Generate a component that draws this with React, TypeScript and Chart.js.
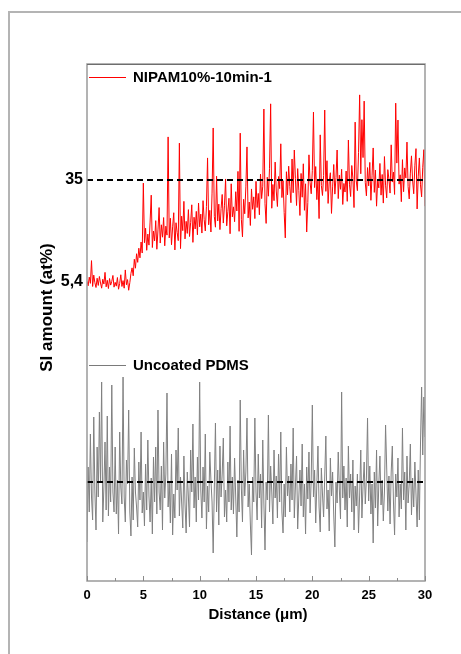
import { useEffect, useRef } from 'react';
import { Chart, registerables } from 'chart.js';

Chart.register(...registerables);

// ---------- data ----------
const DISTANCE_STEP_UM = 0.1; // sampling step along the line scan (µm)
const X_MAJOR_TICKS = [0, 5, 10, 15, 20, 25, 30];
const X_MINOR_TICKS = [2.5, 7.5, 12.5, 17.5, 22.5, 27.5];

const NIPAM_LABEL = 'NIPAM10%-10min-1';
const PDMS_LABEL = 'Uncoated PDMS';

// Si amount (at%) along the scan, coated sample (one row per µm)
const NIPAM_SI = [
  5.6, 4.3, 6.8, 5.0, 11.6, 4.1, 7.4, 5.2, 3.8, 6.5,
  4.4, 7.0, 5.1, 3.6, 6.2, 4.8, 8.2, 4.0, 5.9, 3.5,
  6.4, 4.5, 5.6, 7.3, 3.9, 5.3, 4.2, 6.7, 3.3, 5.0,
  7.5, 4.1, 5.8, 3.6, 8.9, 4.6, 6.1, 3.0, 5.2, 7.9,
  9.5, 7.2, 12.0, 9.4, 13.6, 11.1, 15.2, 12.4, 17.0, 13.8,
  34.1, 16.8, 21.0, 14.6, 19.3, 16.1, 22.8, 30.6, 15.4, 20.2,
  17.3, 23.2, 14.9, 20.5, 27.0, 16.7, 22.0, 18.4, 24.1, 15.9,
  21.6, 19.0, 47.5, 18.2, 23.9, 16.2, 21.4, 25.5, 14.7, 22.6,
  19.8, 17.4, 45.7, 15.1, 24.5, 20.3, 28.8, 17.9, 23.0, 19.5,
  26.4, 18.6, 22.7, 27.8, 16.9, 24.2, 20.8, 25.9, 19.1, 28.3,
  21.4, 25.1, 19.6, 29.0, 23.5, 20.2, 27.3, 41.4, 22.0, 26.2,
  19.9, 31.2, 50.1, 24.4, 21.3, 36.1, 23.1, 28.0, 20.6, 26.7,
  30.8, 22.5, 27.5, 35.3, 21.7, 25.8, 29.7, 19.4, 33.9, 24.3,
  27.2, 22.9, 31.6, 26.0, 37.5, 20.1, 48.6, 23.6, 18.5, 29.4,
  25.2, 33.0, 44.6, 24.0, 28.6, 21.8, 32.4, 26.5, 30.1, 23.8,
  34.6, 27.0, 31.1, 24.9, 36.7, 29.6, 33.2, 55.6, 28.1, 22.4,
  35.8, 30.3, 38.4, 57.1, 26.8, 33.7, 29.0, 40.2, 31.8, 27.3,
  36.0, 32.5, 45.5, 29.9, 34.8, 25.6, 18.2, 37.4, 30.7, 39.0,
  33.1, 28.4, 41.1, 31.3, 43.7, 35.4, 27.6, 38.3, 32.0, 24.7,
  36.9, 30.0, 39.7, 26.2, 33.9, 19.9, 28.5, 42.3, 34.3, 31.0,
  37.8, 54.7, 32.8, 38.9, 29.3, 35.1, 23.8, 48.1, 33.4, 30.5,
  36.3, 55.3, 31.7, 40.6, 28.2, 34.5, 37.1, 25.3, 33.0, 39.5,
  30.9, 35.7, 43.7, 29.6, 36.4, 32.3, 38.1, 27.9, 34.0, 31.5,
  37.6, 28.8, 46.6, 33.6, 30.2, 39.2, 35.5, 27.0, 51.8, 34.7,
  31.9, 43.0, 59.7, 36.8, 52.5, 41.5, 57.9, 34.2, 30.4, 38.6,
  33.3, 40.1, 29.1, 36.2, 44.3, 31.4, 37.9, 27.4, 35.0, 32.7,
  39.8, 30.6, 36.6, 28.3, 41.8, 33.5, 29.8, 38.0, 35.2, 31.2,
  45.2, 34.4, 37.3, 30.8, 57.3, 39.9, 52.4, 33.8, 36.5, 28.7,
  40.9, 31.6, 38.5, 35.6, 46.0, 33.1, 29.5, 37.0, 42.0, 34.9,
  31.0, 39.3, 44.1, 26.6, 36.1, 41.4, 33.6, 30.1, 38.7, 43.8,
  27.4,
];

// Si amount (at%) along the scan, uncoated PDMS (one row per µm)
const PDMS_SI = [
  31.0, 38.5, 34.0, 41.8, 35.5, 33.2, 43.5, 36.0, 32.2, 40.5,
  35.5, 44.0, 37.0, 47.0, 33.0, 36.5, 41.0, 34.2, 43.6, 33.6,
  38.5, 35.0, 46.7, 36.0, 34.0, 40.5, 33.8, 37.2, 31.8, 42.0,
  36.5, 34.8, 47.5, 35.5, 33.0, 39.2, 36.8, 44.2, 34.0, 31.6,
  37.5, 33.2, 40.4, 36.0, 34.5, 32.5, 39.0, 35.2, 42.0, 33.9,
  36.0, 32.6, 38.8, 34.2, 41.2, 35.6, 33.0, 37.4, 31.8, 39.5,
  35.0, 40.5, 33.8, 44.2, 36.0, 34.2, 38.6, 32.2, 41.0, 35.4,
  37.8, 45.9, 34.5, 36.9, 32.9, 39.8, 31.7, 35.8, 33.4, 40.2,
  36.2, 42.4, 33.6, 37.5, 35.0, 32.4, 39.6, 34.8, 31.9, 38.0,
  35.5, 32.5, 40.2, 36.0, 42.8, 34.4, 37.5, 33.0, 39.5, 35.2,
  47.0, 36.2, 33.4, 38.5, 35.0, 41.8, 32.3, 36.6, 34.0, 40.0,
  37.2, 35.0, 29.9, 36.5, 42.9, 34.0, 38.2, 32.7, 40.6, 35.5,
  37.8, 41.4, 33.5, 36.2, 33.0, 39.0, 35.0, 42.6, 34.2, 37.5,
  33.8, 39.4, 35.5, 31.5, 37.2, 34.0, 45.2, 36.4, 33.0, 40.2,
  35.6, 38.0, 43.4, 34.5, 36.8, 32.8, 29.7, 37.5, 35.0, 43.4,
  36.0, 33.2, 39.8, 35.4, 37.8, 32.4, 41.2, 34.9, 30.2, 37.0,
  35.2, 43.7, 34.0, 38.6, 36.0, 32.8, 40.2, 35.4, 37.6, 33.4,
  39.8, 35.0, 42.0, 34.0, 31.9, 36.8, 33.5, 40.5, 35.6, 37.6,
  34.0, 38.8, 35.2, 42.4, 33.4, 36.6, 39.6, 32.3, 35.5, 38.2,
  34.6, 40.8, 33.5, 36.8, 31.8, 38.5, 35.3, 40.0, 33.9, 37.2,
  44.7, 35.5, 38.2, 32.9, 36.8, 40.6, 34.5, 32.0, 38.4, 35.8,
  33.5, 37.6, 41.6, 34.3, 36.2, 32.1, 39.4, 35.6, 38.0, 33.7,
  30.5, 37.0, 34.9, 40.0, 36.2, 33.3, 46.0, 35.4, 38.6, 34.2,
  37.4, 32.5, 40.6, 35.4, 37.8, 34.0, 39.2, 32.2, 36.6, 34.6,
  37.8, 31.9, 35.7, 40.2, 33.4, 36.6, 39.0, 34.8, 37.4, 43.4,
  35.1, 38.6, 33.8, 36.8, 30.9, 38.0, 34.4, 40.2, 32.6, 36.8,
  39.6, 34.7, 37.2, 33.1, 36.0, 42.7, 38.4, 34.1, 37.6, 32.8,
  38.0, 40.6, 35.0, 31.7, 37.8, 35.5, 39.4, 33.5, 36.8, 34.3,
  42.4, 35.2, 38.0, 32.2, 39.6, 34.9, 36.8, 40.8, 33.7, 37.4,
  34.5, 39.0, 35.8, 32.5, 38.2, 33.2, 40.8, 46.5, 39.7, 45.5,
  41.5,
];

// reference levels and tick labels
const NIPAM_TICK_VALUES = [5.4, 35];
const NIPAM_TICK_LABELS = ['5,4', '35'];
const NIPAM_REF_LEVEL = 35;
const PDMS_TICK_VALUES = [37];
const PDMS_TICK_LABELS = ['37'];
const PDMS_REF_LEVEL = 37;

const X_TITLE = 'Distance (\u03bcm)';
const Y_TITLE = 'SI amount (at%)';

// ---------- styling ----------
const FONT = '"Liberation Sans", Arial, Helvetica, sans-serif';
const W = 461;
const H = 654;

const decorPlugin = {
  id: 'decor',
  afterDraw(chart: any) {
    const { ctx, chartArea } = chart;
    const { left, top, right, bottom } = chartArea;
    const xs = chart.scales.x;
    ctx.save();
    // plot frame
    ctx.strokeStyle = '#9a9a9a';
    ctx.lineWidth = 1.5;
    ctx.strokeRect(left, top, right - left, bottom - top);
    ctx.strokeStyle = '#6e6e6e';
    ctx.lineWidth = 1;
    ctx.beginPath();
    ctx.moveTo(left, top + 0.5);
    ctx.lineTo(right, top + 0.5);
    ctx.stroke();
    // inward x ticks
    ctx.strokeStyle = '#8a8a8a';
    ctx.lineWidth = 1;
    X_MAJOR_TICKS.forEach((v) => {
      const px = Math.round(xs.getPixelForValue(v)) + 0.5;
      ctx.beginPath();
      ctx.moveTo(px, bottom);
      ctx.lineTo(px, bottom - 5);
      ctx.stroke();
    });
    X_MINOR_TICKS.forEach((v) => {
      const px = Math.round(xs.getPixelForValue(v)) + 0.5;
      ctx.beginPath();
      ctx.moveTo(px, bottom);
      ctx.lineTo(px, bottom - 3);
      ctx.stroke();
    });

    // legends
    const drawLegend = (y: number, color: string, label: string) => {
      ctx.strokeStyle = color;
      ctx.lineWidth = 1;
      ctx.beginPath();
      ctx.moveTo(left + 2, y + 0.5);
      ctx.lineTo(left + 39, y + 0.5);
      ctx.stroke();
      ctx.fillStyle = '#000';
      ctx.font = `bold 15px ${FONT}`;
      ctx.textAlign = 'left';
      ctx.textBaseline = 'middle';
      ctx.fillText(label, left + 46, y + 1);
    };
    drawLegend(top + 13, '#ff0000', NIPAM_LABEL);
    drawLegend(top + 301, '#7a7a7a', PDMS_LABEL);

    // axis titles
    ctx.fillStyle = '#000';
    ctx.font = `bold 15px ${FONT}`;
    ctx.textAlign = 'center';
    ctx.textBaseline = 'middle';
    ctx.fillText(X_TITLE, (left + right) / 2 + 2, bottom + 34);

    ctx.save();
    ctx.translate(left - 40, (top + bottom) / 2 - 15);
    ctx.rotate(-Math.PI / 2);
    ctx.font = `bold 17px ${FONT}`;
    ctx.fillText(Y_TITLE, 0, 0);
    ctx.restore();

    ctx.restore();
  },
};

export default function App() {
  const canvasRef = useRef<HTMLCanvasElement | null>(null);

  useEffect(() => {
    const canvas = canvasRef.current;
    if (!canvas) return;
    const toPoints = (arr: number[]) => arr.map((v, i) => ({ x: i * DISTANCE_STEP_UM, y: v }));
    const chart = new Chart(canvas, {
      type: 'line',
      data: {
        datasets: [
          {
            label: 'ref35',
            data: [
              { x: 0, y: NIPAM_REF_LEVEL },
              { x: 30, y: NIPAM_REF_LEVEL },
            ],
            yAxisID: 'yRed',
            borderColor: '#000',
            borderWidth: 2,
            borderDash: [6, 4],
            pointRadius: 0,
            order: 0,
          },
          {
            label: 'ref37',
            data: [
              { x: 0, y: PDMS_REF_LEVEL },
              { x: 30, y: PDMS_REF_LEVEL },
            ],
            yAxisID: 'yGray',
            borderColor: '#000',
            borderWidth: 2,
            borderDash: [6, 4],
            pointRadius: 0,
            order: 0,
          },
          {
            label: NIPAM_LABEL,
            data: toPoints(NIPAM_SI),
            yAxisID: 'yRed',
            borderColor: '#ff0000',
            borderWidth: 1,
            pointRadius: 0,
            tension: 0,
            order: 1,
          },
          {
            label: PDMS_LABEL,
            data: toPoints(PDMS_SI),
            yAxisID: 'yGray',
            borderColor: '#808080',
            borderWidth: 1,
            pointRadius: 0,
            tension: 0,
            order: 1,
          },
        ],
      },
      options: {
        responsive: false,
        animation: false,
        devicePixelRatio: 1,
        layout: { padding: { left: 0, right: 36, top: 64, bottom: 0 } },
        plugins: {
          legend: { display: false },
          tooltip: { enabled: false },
          title: { display: false },
        },
        scales: {
          x: {
            type: 'linear',
            min: 0,
            max: 30,
            afterFit: (s: any) => {
              s.height = 73;
            },
            ticks: {
              stepSize: 5,
              color: '#000',
              padding: 7,
              maxRotation: 0,
              font: { family: FONT, size: 13, weight: 'bold' },
            },
            grid: { display: false, drawTicks: false },
            border: { display: false },
          },
          yRed: {
            type: 'linear',
            position: 'left',
            weight: 1,
            min: -81.37,
            max: 68.66,
            afterFit: (s: any) => {
              s.width = 87;
            },
            afterBuildTicks: (s: any) => {
              s.ticks = NIPAM_TICK_VALUES.map((v) => ({ value: v }));
            },
            ticks: {
              color: '#000',
              padding: 4,
              autoSkip: false,
              font: { family: FONT, size: 16, weight: 'bold' },
              callback: (_v: any, i: number) => NIPAM_TICK_LABELS[i],
            },
            grid: { display: false, drawTicks: false },
            border: { display: false },
          },
          yGray: {
            type: 'linear',
            position: 'left',
            weight: 0,
            min: 27.1,
            max: 78.8,
            afterFit: (s: any) => {
              s.width = 0;
            },
            afterBuildTicks: (s: any) => {
              s.ticks = PDMS_TICK_VALUES.map((v) => ({ value: v }));
            },
            ticks: {
              color: '#000',
              padding: 6,
              autoSkip: false,
              font: { family: FONT, size: 16, weight: 'bold' },
              callback: (_v: any, i: number) => PDMS_TICK_LABELS[i],
            },
            grid: { display: false, drawTicks: false },
            border: { display: false },
          },
        },
      },
      plugins: [decorPlugin],
    });
    return () => chart.destroy();
  }, []);

  return (
    <div
      style={{
        position: 'absolute',
        left: 0,
        top: 0,
        width: W,
        height: H,
        overflow: 'hidden',
        background: '#fff',
      }}
    >
      <div
        style={{
          position: 'absolute',
          left: 8,
          top: 11,
          width: 600,
          height: 800,
          borderLeft: '2px solid #b4b4b4',
          borderTop: '2px solid #b4b4b4',
        }}
      />
      <canvas
        ref={canvasRef}
        width={W}
        height={H}
        style={{ position: 'absolute', left: 0, top: 0, width: W, height: H }}
      />
    </div>
  );
}
